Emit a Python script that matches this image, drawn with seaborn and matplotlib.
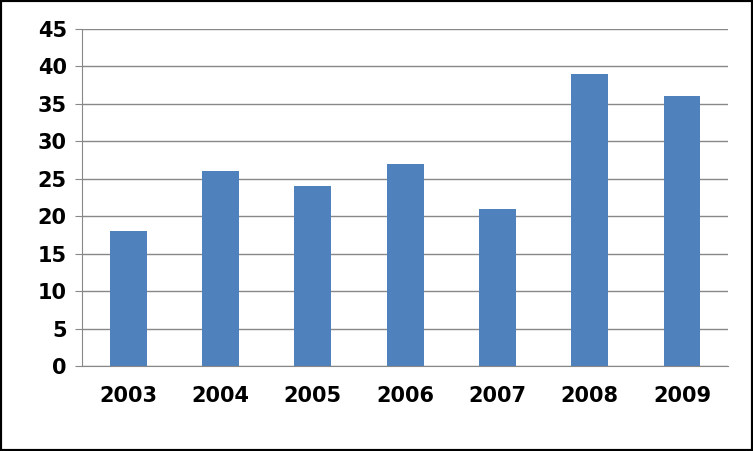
import matplotlib
matplotlib.use("Agg")
import matplotlib.pyplot as plt
import seaborn as sns
import pandas as pd

years = ["2003", "2004", "2005", "2006", "2007", "2008", "2009"]
values = [18, 26, 24, 27, 21, 39, 36]

sns.set_style("white")
plt.rcParams['font.family'] = ['DejaVu Sans']
df = pd.DataFrame({"year": years, "value": values})

fig = plt.figure(figsize=(7.53, 4.51), dpi=100)
ax = fig.add_axes([0.109, 0.188, 0.858, 0.748])
sns.barplot(data=df, x="year", y="value", color="#4F81BD", saturation=1, width=0.4,
            edgecolor="none", linewidth=0, ax=ax)
ax.set_ylim(0, 45)
ax.set_yticks(range(0, 46, 5))
ax.yaxis.grid(True, color="#888888", linewidth=1)
ax.set_axisbelow(True)
ax.set_xlabel("")
ax.set_ylabel("")
for s in ["top", "right"]:
    ax.spines[s].set_visible(False)
ax.spines["left"].set_color("#888888")
ax.spines["bottom"].set_color("#888888")
ax.tick_params(axis="y", labelsize=15, length=5, color="#888888", direction="out",
               left=True, pad=6, labelcolor="black")
ax.tick_params(axis="x", labelsize=15, length=0, pad=14, labelcolor="black")
for lbl in ax.get_xticklabels() + ax.get_yticklabels():
    lbl.set_fontweight("bold")
fig.patches.append(plt.Rectangle((0, 0), 1, 1, transform=fig.transFigure, fill=False,
                                 edgecolor="black", linewidth=3))
fig.savefig("out.png", dpi=100)
